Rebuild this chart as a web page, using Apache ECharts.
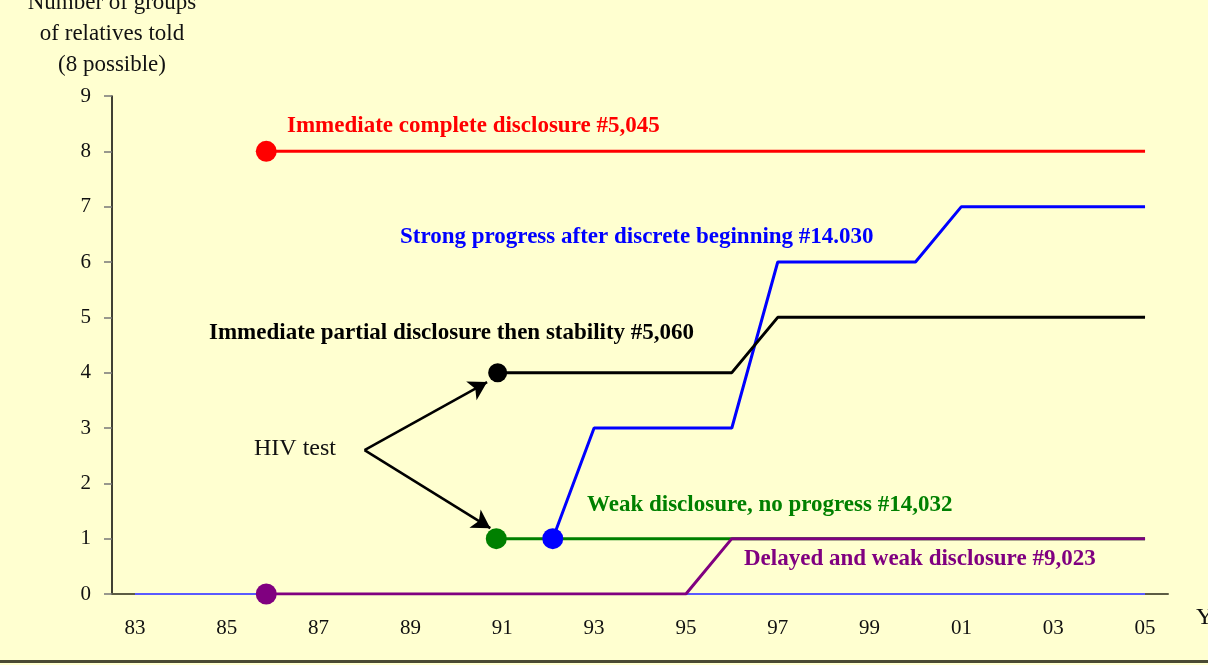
<!DOCTYPE html>
<html>
<head>
<meta charset="utf-8">
<script src="https://cdn.jsdelivr.net/npm/echarts@6/dist/echarts.min.js"></script>
<style>
  html, body { margin: 0; padding: 0; background: #ffffd0; }
  #chart { width: 1208px; height: 665px; }
</style>
</head>
<body>
<div id="chart"></div>
<script>
// years shown on the axis (05 = 2005)
const yearLabels = ["83", "84", "85", "86", "87", "88", "89", "90", "91", "92", "93",
  "94", "95", "96", "97", "98", "99", "00", "01", "02", "03", "04", "05"];
const yTicks = [0, 1, 2, 3, 4, 5, 6, 7, 8, 9];

// [year, groups told] - year counted from 1900 (105 = 2005)
const redCase = [[85.86, 8], [105, 8]];
const blueCase = [[92.1, 1], [93, 3], [96, 3], [97, 6], [100, 6], [101, 7], [105, 7]];
const blackCase = [[90.9, 4], [96, 4], [97, 5], [105, 5]];
const greenCase = [[90.87, 1], [105, 1]];
const purpleCase = [[85.86, 0], [95, 0], [96, 1], [105, 1]];
const baseLine = [[83, 0], [105, 0]];

// HIV test arrows: start, end
const arrowUp = [[88.0, 2.6], [90.67, 3.83]];
const arrowDown = [[88.0, 2.6], [90.74, 1.19]];

const serif = "'Liberation Serif', 'DejaVu Serif', serif";
let chart = echarts.init(document.getElementById("chart"));

function caseSeries(name, color, data, dot) {
  return {
    name: name,
    type: "line",
    xAxisIndex: 1,
    data: data,
    symbol: "circle",
    symbolSize: (v, p) => (p.dataIndex === 0 ? dot : 0),
    lineStyle: { color: color, width: 3 },
    itemStyle: { color: color },
    z: 3,
    animation: false,
  };
}

function note(text, x, y, color) {
  return {
    type: "text",
    left: x,
    top: y - 13,
    style: {
      text: text,
      fill: color,
      font: "bold 23px " + serif,
    },
  };
}

let options = {
  backgroundColor: "#ffffd0",
  grid: { left: 112, right: 40, top: 96, bottom: 71, containLabel: false, outerBoundsMode: "none" },
  xAxis: [
    {
      type: "category",
      data: yearLabels,
      boundaryGap: true,
      axisLine: { lineStyle: { color: "#5c5c44", width: 2 } },
      axisTick: { interval: 0, length: 7, lineStyle: { color: "#222" } },
      axisLabel: { interval: 1, color: "#111", fontSize: 21, fontFamily: serif, margin: 24 },
      splitLine: { show: false },
    },
    {
      type: "value",
      min: 82.5,
      max: 105.5,
      show: false,
    },
  ],
  yAxis: {
    type: "value",
    min: 0,
    max: 9,
    interval: 1,
    name: "Number of groups\nof relatives told\n(8 possible)",
    nameLocation: "end",
    nameGap: 16,
    nameTextStyle: { color: "#111", fontSize: 23, fontFamily: serif, lineHeight: 31, align: "center" },
    axisLine: { show: true, lineStyle: { color: "#000", width: 1.5 } },
    axisTick: { show: true, length: 8, lineStyle: { color: "#777", width: 1.5 } },
    axisLabel: { color: "#111", fontSize: 21, fontFamily: serif, margin: 21 },
    splitLine: { show: false },
  },
  series: [
    {
      type: "line",
      xAxisIndex: 1,
      data: baseLine,
      symbol: "none",
      lineStyle: { color: "#5a5aff", width: 2 },
      z: 2,
      animation: false,
    },
    caseSeries("Immediate complete disclosure", "#ff0000", redCase, 21),
    caseSeries("Strong progress after discrete beginning", "#0000ff", blueCase, 21),
    caseSeries("Immediate partial disclosure then stability", "#000000", blackCase, 19),
    caseSeries("Weak disclosure, no progress", "#008000", greenCase, 21),
    caseSeries("Delayed and weak disclosure", "#800080", purpleCase, 21),
    {
      type: "line",
      xAxisIndex: 1,
      data: [],
      animation: false,
      markLine: {
        silent: true,
        symbol: ["none", "arrow"],
        symbolSize: [16, 18],
        label: { show: false },
        lineStyle: { color: "#000", width: 2.5, type: "solid" },
        data: [
          [{ coord: arrowUp[0] }, { coord: arrowUp[1] }],
          [{ coord: arrowDown[0] }, { coord: arrowDown[1] }],
        ],
      },
    },
  ],
  graphic: [
    note("Immediate complete disclosure #5,045", 287, 128, "#ff0000"),
    note("Strong progress after discrete beginning #14.030", 400, 239, "#0000ff"),
    note("Immediate partial disclosure then stability #5,060", 209, 335, "#000000"),
    note("Weak disclosure, no progress #14,032", 587, 507, "#008000"),
    note("Delayed and weak disclosure #9,023", 744, 561, "#800080"),
    {
      type: "text",
      left: 254,
      top: 437,
      style: { text: "HIV test", fill: "#111", font: "24px " + serif },
    },
    {
      type: "text",
      left: 1196,
      top: 606,
      style: { text: "Years", fill: "#111", font: "24px " + serif },
    },
    {
      type: "rect",
      left: 0,
      top: 660,
      shape: { width: 1208, height: 3 },
      style: { fill: "#4a4a33" },
    },
  ],
};

chart.setOption(options);
</script>
</body>
</html>
